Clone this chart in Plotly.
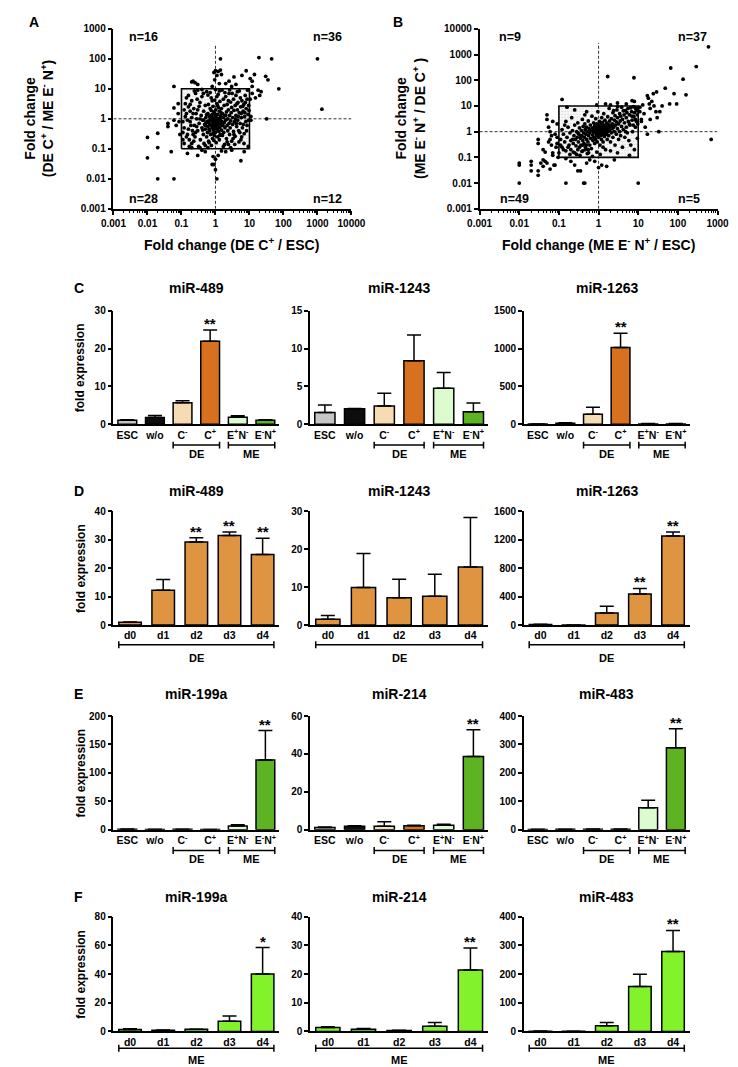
import plotly.graph_objects as go

W, H = 738, 1067
FONT = "Liberation Sans"

# ---------------- Panel A scatter data: (FC DE C+ / ESC, FC DE C+ / ME E-N+)
A_points = [
    (0.12,0.5),(0.13,1.2),(0.15,0.3),(0.16,2.5),(0.18,0.8),(0.2,0.15),(0.2,4.0),(0.22,1.5),(0.24,0.6),(0.25,0.25),
    (0.26,7.0),(0.28,1.0),(0.3,0.4),(0.3,2.0),(0.32,0.12),(0.33,0.7),(0.35,3.5),(0.36,0.2),(0.38,1.3),(0.4,0.5),
    (0.4,5.5),(0.42,0.9),(0.44,0.3),(0.45,1.8),(0.46,0.15),(0.48,0.65),(0.5,2.8),(0.5,0.45),(0.52,1.1),(0.55,0.25),
    (0.55,8.0),(0.57,0.8),(0.58,0.35),(0.6,1.5),(0.6,0.55),(0.62,3.0),(0.63,0.18),(0.65,0.7),(0.66,1.2),(0.68,0.4),
    (0.7,0.95),(0.7,2.2),(0.72,0.3),(0.74,0.6),(0.75,5.0),(0.76,0.13),(0.78,0.85),(0.8,1.4),(0.8,0.5),(0.82,0.22),
    (0.84,0.75),(0.85,2.6),(0.86,1.0),(0.88,0.42),(0.9,0.6),(0.9,1.7),(0.92,0.28),(0.94,0.9),(0.95,4.2),(0.96,0.52),
    (0.98,1.2),(1.0,0.7),(1.0,0.35),(1.02,2.0),(1.05,0.16),(1.05,0.8),(1.08,1.05),(1.1,0.45),(1.1,3.2),(1.12,0.62),
    (1.15,0.25),(1.15,1.4),(1.18,0.85),(1.2,6.5),(1.2,0.55),(1.22,2.4),(1.25,0.38),(1.25,1.0),(1.28,0.7),(1.3,0.2),
    (1.3,1.8),(1.35,0.5),(1.35,3.8),(1.38,0.95),(1.4,0.3),(1.42,1.25),(1.45,0.65),(1.5,2.2),(1.5,0.42),(1.55,0.8),
    (1.55,9.0),(1.6,1.5),(1.6,0.28),(1.65,0.6),(1.7,1.1),(1.7,4.5),(1.75,0.35),(1.8,0.75),(1.8,2.8),(1.85,0.14),
    (1.9,1.3),(1.9,0.5),(2.0,0.9),(2.0,5.5),(2.1,0.22),(2.1,1.7),(2.2,0.6),(2.2,3.0),(2.3,1.0),(2.3,0.4),
    (2.4,2.0),(2.5,0.7),(2.5,7.0),(2.6,0.3),(2.6,1.3),(2.7,0.5),(2.8,3.6),(2.8,0.85),(2.9,1.6),(3.0,0.18),
    (3.0,2.4),(3.2,0.65),(3.2,1.1),(3.4,4.5),(3.4,0.38),(3.5,1.9),(3.6,0.8),(3.8,2.8),(3.8,0.26),(4.0,1.3),
    (4.0,6.0),(4.2,0.55),(4.4,2.0),(4.5,0.9),(4.6,3.5),(4.8,0.4),(5.0,1.6),(5.0,8.5),(5.3,0.7),(5.5,2.5),
    (5.6,0.2),(5.8,1.1),(6.0,4.0),(6.2,0.5),(6.5,1.8),(6.8,3.0),(7.0,0.32),(7.2,1.2),(7.5,6.0),(7.8,0.8),
    (8.0,2.2),(8.5,0.6),(8.5,4.5),(9.0,1.4),(9.2,0.12),(9.5,2.8),
    (0.45,0.9),(0.55,1.4),(0.65,0.45),(0.75,1.9),(0.85,0.33),(0.95,1.5),(1.05,0.58),(1.15,2.8),(1.25,0.75),(1.35,0.28),
    (1.45,1.6),(0.35,1.0),(0.28,0.55),(0.22,0.3),(0.18,1.8),(0.15,0.9),(0.11,0.2),(0.14,5.0),(0.17,0.12),(0.3,9.0),
    (0.7,7.5),(1.0,9.5),(0.6,0.11),(2.4,0.14),(0.9,0.19),(1.6,0.6),(2.0,1.3),(0.5,0.6),(0.8,1.1),(1.1,0.9),
    (0.62,0.85),(0.72,1.25),(0.82,0.62),(0.92,0.78),(1.02,1.15),(1.12,0.48),(1.22,0.68),(1.32,1.05),(0.52,0.72),(0.42,0.42),
    (0.11,0.35),(0.11,0.8),(0.12,2.0),(0.12,0.15),(0.13,3.2),(0.14,0.25),(0.14,1.5),(0.16,0.45),(0.16,6.0),(0.17,0.2),
    (0.18,3.0),(0.19,0.6),(0.2,1.1),(0.21,0.4),(0.23,2.2),(0.23,0.18),(0.24,8.5),(0.26,0.35),(0.27,1.5),(0.29,4.5),
    (3.5,0.3),(3.7,0.14),(3.9,1.0),(4.1,0.7),(4.3,3.2),(4.7,1.2),(5.2,0.35),(5.4,5.0),(5.7,1.5),(5.9,0.25),
    (6.3,2.6),(6.6,0.65),(6.9,0.15),(7.3,1.6),(7.6,3.5),(8.2,0.4),(8.8,9.0),(9.3,0.9),(9.7,1.9),(4.4,8.0),
    (0.35,0.11),(0.5,0.13),(0.65,0.16),(1.7,0.12),(2.2,0.17),(2.8,0.11),(0.4,9.5),(0.6,6.2),(1.3,8.5),(1.9,7.5),
    (2.6,9.2),(3.1,7.0),(0.2,0.11),(0.33,2.6),(0.44,7.0),(0.8,4.0),(1.1,5.5),(2.4,4.0),(3.3,0.22),(4.9,0.17),
    (0.2,17),(0.22,18),(0.25,16),(0.3,14),(0.9,35),(1.0,40),(1.2,38),(1.4,42),(1.5,30),(0.95,20),
    (1.1,28),(1.3,15),(0.8,12),(2.0,15),(2.5,18),(3.0,12),(4.0,14),(3.5,25),(1.4,100),(6.0,28),
    (8.0,40),(10.5,22),(12,12),(12,7),(15,5),(18,9),(20,6),(22,8),(30,26),(35,20),
    (45,100),(19,110),(73,10),(1000,100),(1350,2.1),(32,1.0),(11,1.2),(11,0.9),(10.5,4.5),(12,18),
    (14,30),(0.01,0.24),(0.01,0.05),(0.02,0.33),(0.02,0.11),(0.02,0.01),(0.06,0.01),(0.05,0.08),(0.06,12),(0.06,2.3),
    (0.04,0.7),(0.04,0.55),(0.06,0.9),(0.08,3.2),(0.08,1.5),(0.07,0.6),(0.09,0.3),(0.085,0.8),
    (0.8,0.03),(0.9,0.03),(1.0,0.02),(1.0,0.045),(1.1,0.01),(1.2,0.06),(0.85,0.055),(5.6,0.04),(7.0,0.08),(0.3,0.06),
    (0.15,0.07),(0.5,0.08),(2.0,0.08),(0.4,0.09),(3.0,0.09),(1.5,0.085),
]

# ---------------- Panel B scatter data: (FC ME E-N+ / ESC, FC ME E-N+ / DE C+)
B_points = [
    (0.01,0.01),(0.01,0.06),(0.01,0.05),(0.02,0.07),(0.02,0.05),(0.02,0.03),(0.03,0.5),(0.03,0.35),(0.03,0.03),(0.03,0.02),
    (0.035,0.06),(0.04,0.08),(0.04,0.045),(0.04,0.2),(0.045,0.07),(0.05,0.06),(0.05,4.5),(0.05,3.0),(0.055,1.5),(0.06,1.0),
    (0.06,0.5),(0.06,0.035),(0.065,0.3),(0.07,0.12),(0.07,0.15),(0.075,0.05),(0.08,0.05),(0.08,0.8),(0.085,0.25),(0.09,2.0),
    (0.09,0.6),(0.095,0.1),(0.07,2.5),(0.065,0.7),(0.055,0.4),(0.045,0.16),(0.09,0.35),
    (0.15,0.01),(0.42,0.01),(0.45,0.01),(1.0,0.04),(1.2,0.05),(1.6,0.045),(0.2,0.07),(0.25,0.05),(0.3,0.03),
    (0.35,0.03),(0.5,0.06),(0.6,0.08),(0.15,0.09),(2.5,0.08),(0.8,0.07),(10,0.01),
    (0.12,18),(1.7,140),(7.8,125),(8,15),(1.5,12),(2,11),(3,13),(5,12),(0.9,11),(7,16),
    (590,2000),(690,0.5),(290,340),(66,300),(135,110),(160,27),(80,30),(48,49),(62,12),(93,12),
    (29,35),(33,1.0),(20,8),(18,20),(17,25),(22,15),(25,10),(28,6),(30,3.5),(20,3),
    (14,5),(12,3),(15,1.5),(11,9),(11,6),(13,11),(24,30),(40,10),(12,2.5),(17,0.8),(19,12),(35,6),
    (0.1,0.15),(0.11,0.5),(0.12,1.2),(0.12,0.25),(0.13,0.8),(0.14,0.4),(0.15,2.5),(0.15,0.18),(0.16,0.6),(0.17,1.5),
    (0.18,0.3),(0.19,0.9),(0.2,0.2),(0.2,0.45),(0.21,3.5),(0.22,1.1),(0.23,0.35),(0.24,0.7),(0.25,0.15),(0.25,1.8),
    (0.26,0.5),(0.27,0.28),(0.28,1.0),(0.29,0.6),(0.3,0.2),(0.3,2.2),(0.31,0.4),(0.32,0.8),(0.33,1.4),(0.34,0.12),
    (0.35,0.55),(0.36,0.3),(0.37,1.1),(0.38,0.7),(0.39,3.0),(0.4,0.45),(0.4,0.18),(0.41,1.6),(0.42,0.9),(0.43,0.35),
    (0.44,0.6),(0.45,2.0),(0.46,1.2),(0.47,0.25),(0.48,0.8),(0.5,0.5),(0.5,1.5),(0.52,0.14),(0.53,1.0),(0.54,0.4),
    (0.55,2.6),(0.56,0.7),(0.58,1.3),(0.6,0.3),(0.6,0.9),(0.62,1.8),(0.63,0.55),(0.65,1.1),(0.66,0.22),(0.68,4.0),
    (0.7,0.75),(0.7,1.4),(0.72,0.45),(0.74,1.0),(0.75,2.2),(0.76,0.6),(0.78,1.2),(0.8,0.35),(0.8,1.7),(0.82,0.9),
    (0.84,0.5),(0.85,3.2),(0.86,1.3),(0.88,0.7),(0.9,1.0),(0.9,2.0),(0.92,0.4),(0.94,1.5),(0.95,0.8),(0.96,6.0),
    (0.98,1.1),(1.0,0.6),(1.0,1.8),(1.02,1.3),(1.05,0.9),(1.05,2.5),(1.08,0.3),(1.1,1.5),(1.1,1.0),(1.12,0.7),
    (1.15,2.0),(1.15,1.2),(1.18,0.5),(1.2,3.5),(1.2,0.95),(1.22,1.6),(1.25,0.75),(1.25,2.3),(1.28,1.1),(1.3,0.4),
    (1.3,1.4),(1.35,0.9),(1.35,5.0),(1.38,1.8),(1.4,0.65),(1.42,1.2),(1.45,2.8),(1.5,1.0),(1.5,0.2),(1.55,1.6),
    (1.55,0.8),(1.6,2.2),(1.6,1.3),(1.65,0.5),(1.7,3.8),(1.7,1.0),(1.75,1.9),(1.8,0.7),(1.8,1.4),(1.85,8.0),
    (1.9,2.6),(1.9,1.1),(2.0,0.4),(2.0,1.7),(2.1,3.2),(2.1,0.9),(2.2,2.0),(2.2,1.3),(2.3,5.5),(2.3,0.6),
    (2.4,1.5),(2.5,2.8),(2.5,1.0),(2.6,0.3),(2.6,4.2),(2.7,1.8),(2.8,0.8),(2.8,2.4),(2.9,7.0),(3.0,1.3),
    (3.0,3.5),(3.2,0.5),(3.2,2.0),(3.4,1.0),(3.4,5.0),(3.5,2.6),(3.6,0.7),(3.8,1.6),(3.8,9.0),(4.0,3.0),
    (4.0,0.25),(4.2,1.2),(4.4,4.5),(4.5,2.2),(4.6,0.6),(4.8,6.5),(5.0,1.5),(5.0,3.5),(5.3,0.9),(5.5,8.0),
    (5.6,2.5),(5.8,0.45),(6.0,4.5),(6.2,1.8),(6.5,0.3),(6.8,6.0),(7.0,2.8),(7.2,1.0),(7.5,9.5),(7.8,3.8),
    (8.0,0.2),(8.0,5.5),(8.5,1.5),(8.8,7.5),(9.0,2.5),(9.5,0.55),(9.5,4.5),(6.0,0.12),(3.0,0.15),(0.7,0.11),
    (1.1,0.13),(0.9,0.16),(0.55,0.2),(1.3,0.25),(2.0,0.18),(0.25,7.0),(0.5,6.0),(0.16,9.0),(0.45,4.5),(0.3,0.9),
    (1.12,1.35),(1.32,1.15),(1.52,1.45),(1.72,1.25),(0.92,1.25),(1.62,0.95),(1.42,0.85),(2.3,1.9),(1.95,1.55),(0.82,1.45),
    (5.2,5.5),(6.5,8.5),(7.0,4.0),(8.2,9.0),(9.2,6.5),(9.8,8.0),(4.2,6.5),(3.6,4.0),(6.0,2.0),(7.5,1.8),
    (8.5,3.0),(9.7,2.0),(4.8,1.0),(3.0,9.5),(2.4,6.5),(0.11,0.3),(0.13,0.2),(0.14,1.8),(0.17,0.25),(0.19,0.13),
    (0.22,0.5),(0.23,0.16),(0.28,0.13),(0.33,0.25),(0.36,0.65),(0.38,0.17),(0.4,0.3),(0.46,0.2),(0.49,0.3),(0.56,0.15),
]

A_counts = ["n=16", "n=36", "n=28", "n=12"]
B_counts = ["n=9", "n=37", "n=49", "n=5"]
A_ticks_x = ["0.001", "0.01", "0.1", "1", "10", "100", "1000", "10000"]
A_ticks_y = ["0.001", "0.01", "0.1", "1", "10", "100", "1000"]
B_ticks_x = ["0.001", "0.01", "0.1", "1", "10", "100", "1000"]
B_ticks_y = ["0.001", "0.01", "0.1", "1", "10", "100", "1000", "10000"]
BOX_LO, BOX_HI, THRESH = 0.1, 10, 1
A_VLINE_TOP, B_VLINE_TOP = 300, 2800

# ---------------- Bar chart data
cell_cats = ["ESC", "w/o", "C<sup>-</sup>", "C<sup>+</sup>", "E<sup>+</sup>N<sup>-</sup>", "E<sup>-</sup>N<sup>+</sup>"]
day_cats = ["d0", "d1", "d2", "d3", "d4"]
cell_colors = ["#c6c6c6", "#0d0d0d", "#f6dbb3", "#d7711f", "#dcfccf", "#5db321"]
DE_color = "#de9441"
ME_color = "#82f22b"

C_489_mean = [1.1, 1.8, 5.7, 21.9, 1.9, 1.1]
C_489_sem = [0.1, 0.5, 0.5, 3.0, 0.35, 0.1]
C_1243_mean = [1.56, 2.04, 2.43, 8.4, 4.77, 1.65]
C_1243_sem = [1.0, 0.06, 1.67, 3.4, 2.08, 1.15]
C_1263_mean = [3, 14, 134, 1014, 6, 6]
C_1263_sem = [1, 6, 91, 186, 4, 4]

D_489_mean = [1.0, 12.2, 29.2, 31.5, 24.8]
D_489_sem = [0.1, 3.8, 1.5, 1.2, 5.7]
D_1243_mean = [1.5, 9.9, 7.2, 7.6, 15.3]
D_1243_sem = [1.0, 9.0, 4.9, 5.8, 13.1]
D_1263_mean = [8, 1, 171, 438, 1254]
D_1263_sem = [2, 0, 92, 78, 55]

E_199a_mean = [1.0, 0.6, 0.8, 0.5, 6.4, 122.5]
E_199a_sem = [0.3, 0.1, 0.2, 0.1, 2.3, 52]
E_214_mean = [1.2, 1.8, 1.9, 2.1, 2.4, 38.6]
E_214_sem = [0.3, 0.3, 2.3, 0.3, 0.5, 14.1]
E_483_mean = [1, 1.5, 2, 2, 77.5, 288]
E_483_sem = [0.3, 0.5, 0.5, 0.5, 26.5, 67]

F_199a_mean = [1.4, 0.8, 1.5, 7.1, 40.1]
F_199a_sem = [0.4, 0.2, 0.1, 3.7, 18.4]
F_214_mean = [1.4, 0.8, 0.3, 1.8, 21.4]
F_214_sem = [0.2, 0.2, 0.1, 1.3, 7.7]
F_483_mean = [1, 0.5, 19.5, 157, 278.5]
F_483_sem = [0.3, 0.2, 11.5, 42, 73.5]

# ---------------- layout helpers
layout = dict(width=W, height=H, margin=dict(l=0, r=0, t=0, b=0),
              paper_bgcolor="white", plot_bgcolor="white", showlegend=False,
              font=dict(family=FONT, color="black", size=10, weight="bold"))
annotations = []
shapes = []
fig = go.Figure()
counter = [0]


def bf(size):
    return dict(family=FONT, size=size, color="black", weight="bold")


def new_axes(x0, x1, y0, y1, xcfg, ycfg):
    counter[0] += 1
    i = counter[0]
    sfx = "" if i == 1 else str(i)
    xr, yr = "x" + sfx, "y" + sfx
    layout["xaxis" + sfx] = dict(domain=[x0 / W, x1 / W], anchor=yr, **xcfg)
    layout["yaxis" + sfx] = dict(domain=[1 - y1 / H, 1 - y0 / H], anchor=xr, **ycfg)
    return xr, yr


def ann(text, x, y, size, angle=0, xanchor="center", yanchor="middle"):
    annotations.append(dict(text=text, x=x / W, y=1 - y / H, xref="paper", yref="paper",
                            showarrow=False, font=bf(size), textangle=angle,
                            xanchor=xanchor, yanchor=yanchor))


def scatter_panel(x0, x1, y0, y1, pts, xt, yt, xlo, xhi, ylo, yhi, vtop, counts, cpos,
                  xtitle, ytitle, xtitle_pos, ytitle_pos):
    xvals = [float(t) for t in xt]
    yvals = [float(t) for t in yt]
    common = dict(type="log", showline=True, linecolor="black", linewidth=1.5, ticks="outside",
                  ticklen=4, tickwidth=1.5, tickcolor="black", showgrid=False, zeroline=False,
                  tickfont=bf(10), fixedrange=True)
    xr, yr = new_axes(x0, x1, y0, y1,
                      dict(range=[xlo, xhi], tickmode="array", tickvals=xvals, ticktext=xt,
                           minor=dict(ticks="outside", ticklen=2.5, tickwidth=1, tickcolor="black",
                                      dtick="D1", showgrid=False), **common),
                      dict(range=[ylo, yhi], tickmode="array", tickvals=yvals, ticktext=yt, **common))
    bx = [BOX_LO, BOX_HI, BOX_HI, BOX_LO, BOX_LO]
    by = [BOX_LO, BOX_LO, BOX_HI, BOX_HI, BOX_LO]
    fig.add_trace(go.Scatter(x=bx, y=by, mode="lines", fill="toself", fillcolor="#f5f5f5",
                             fillpattern=dict(shape=".", fgcolor="#a5a5a5", bgcolor="#f7f7f7",
                                              size=3, solidity=0.15),
                             line=dict(width=0), xaxis=xr, yaxis=yr, hoverinfo="skip"))
    dash = dict(color="#333333", width=1, dash="3px,2px")
    fig.add_trace(go.Scatter(x=[THRESH, THRESH], y=[yvals[0], vtop], mode="lines", line=dash,
                             xaxis=xr, yaxis=yr, hoverinfo="skip"))
    fig.add_trace(go.Scatter(x=[xvals[0], xvals[-1]], y=[THRESH, THRESH], mode="lines", line=dash,
                             xaxis=xr, yaxis=yr, hoverinfo="skip"))
    fig.add_trace(go.Scatter(x=bx, y=by, mode="lines", line=dict(color="black", width=1.6),
                             xaxis=xr, yaxis=yr, hoverinfo="skip"))
    fig.add_trace(go.Scatter(x=[p[0] for p in pts], y=[p[1] for p in pts], mode="markers",
                             marker=dict(color="black", size=3.8, line=dict(width=0)),
                             xaxis=xr, yaxis=yr))
    for txt, (cx, cy) in zip(counts, cpos):
        ann(txt, cx, cy, 12.5)
    ann(xtitle, xtitle_pos[0], xtitle_pos[1], 14)
    ann(ytitle, ytitle_pos[0], ytitle_pos[1], 14, angle=-90)


COLS = [(96, 268), (300, 485), (522, 694)]
# plot top, plot bottom, title y, bracket y, bracket label y
ROWS = {
    "C": (300, 415, 277, 436, 445),
    "D": (503, 618, 482, 638, 651),
    "E": (710, 825, 688, 846, 855),
    "F": (913, 1029, 893, 1046, 1058),
}


def bar_panel(row, col, cats, means, sems, colors, ymax, dtick, stars, title, groups):
    x0, x1 = COLS[col]
    y0, y1, ty, by, bly = ROWS[row]
    n = len(cats)
    xr, yr = new_axes(
        x0, x1, y0, y1,
        dict(range=[-0.5, n - 0.5], tickmode="array", tickvals=list(range(n)), ticktext=cats,
             ticks="", showline=True, linecolor="black", linewidth=1.5, showgrid=False,
             zeroline=False, tickfont=bf(10.5), fixedrange=True),
        dict(range=[0, ymax], dtick=dtick, tick0=0, ticks="outside", ticklen=4, tickwidth=1.5,
             tickcolor="black", showline=True, linecolor="black", linewidth=1.5, showgrid=False,
             zeroline=False, tickfont=bf(10), fixedrange=True))
    fig.add_trace(go.Bar(x=list(range(n)), y=means, width=0.68,
                         marker=dict(color=colors, line=dict(color="black", width=1.5)),
                         error_y=dict(type="data", array=sems, arrayminus=[0] * n, symmetric=False,
                                      color="black", thickness=1.5, width=7),
                         xaxis=xr, yaxis=yr))
    for i, s in stars:
        annotations.append(dict(text=s, x=i, y=means[i] + sems[i], xref=xr, yref=yr,
                                showarrow=False, font=bf(15), xanchor="center", yanchor="bottom",
                                yshift=-4))
    ann(title, (x0 + x1) / 2, ty, 14)
    for a, b, lab in groups:
        shapes.append(dict(type="line", xref=xr, yref="paper", x0=a - 0.34, x1=b + 0.34,
                           y0=1 - by / H, y1=1 - by / H, line=dict(color="black", width=1.5)))
        for xe in (a - 0.34, b + 0.34):
            shapes.append(dict(type="line", xref=xr, yref="paper", x0=xe, x1=xe,
                               y0=1 - (by - 3.5) / H, y1=1 - (by + 3.5) / H,
                               line=dict(color="black", width=1.5)))
        annotations.append(dict(text=lab, x=(a + b) / 2, y=1 - bly / H, xref=xr, yref="paper",
                                showarrow=False, font=bf(11), xanchor="center", yanchor="middle"))
    if col == 0:
        ann("fold expression", 62, (y0 + y1) / 2, 12, angle=-90)


# ---------------- Panels A & B
scatter_panel(96, 343, 15, 197, A_points, A_ticks_x, A_ticks_y, -3, 4, -3, 3, A_VLINE_TOP,
              A_counts, [(127, 23), (318, 23), (127, 187), (318, 187)],
              "Fold change (DE C<sup>+</sup> / ESC)",
              "Fold change<br>(DE C<sup>+</sup> / ME E<sup>-</sup> N<sup>+</sup>)",
              (219, 233), (18, 106))
scatter_panel(476, 723, 15, 197, B_points, B_ticks_x, B_ticks_y, -3, 3, -3, 4, B_VLINE_TOP,
              B_counts, [(508, 23), (697, 23), (512, 187), (693, 187)],
              "Fold change (ME E<sup>-</sup> N<sup>+</sup> / ESC)",
              "Fold change<br>(ME E<sup>-</sup> N<sup>+</sup> / DE C<sup>+</sup> )",
              (599, 233), (404, 106))

cell_groups = [(2, 3, "DE"), (4, 5, "ME")]
bar_panel("C", 0, cell_cats, C_489_mean, C_489_sem, cell_colors, 30, 10, [(3, "**")], "miR-489", cell_groups)
bar_panel("C", 1, cell_cats, C_1243_mean, C_1243_sem, cell_colors, 15, 5, [], "miR-1243", cell_groups)
bar_panel("C", 2, cell_cats, C_1263_mean, C_1263_sem, cell_colors, 1500, 500, [(3, "**")], "miR-1263", cell_groups)

DEg = [(0, 4, "DE")]
bar_panel("D", 0, day_cats, D_489_mean, D_489_sem, [DE_color] * 5, 40, 10,
          [(2, "**"), (3, "**"), (4, "**")], "miR-489", DEg)
bar_panel("D", 1, day_cats, D_1243_mean, D_1243_sem, [DE_color] * 5, 30, 10, [], "miR-1243", DEg)
bar_panel("D", 2, day_cats, D_1263_mean, D_1263_sem, [DE_color] * 5, 1600, 400,
          [(3, "**"), (4, "**")], "miR-1263", DEg)

bar_panel("E", 0, cell_cats, E_199a_mean, E_199a_sem, cell_colors, 200, 50, [(5, "**")], "miR-199a", cell_groups)
bar_panel("E", 1, cell_cats, E_214_mean, E_214_sem, cell_colors, 60, 20, [(5, "**")], "miR-214", cell_groups)
bar_panel("E", 2, cell_cats, E_483_mean, E_483_sem, cell_colors, 400, 100, [(5, "**")], "miR-483", cell_groups)

MEg = [(0, 4, "ME")]
bar_panel("F", 0, day_cats, F_199a_mean, F_199a_sem, [ME_color] * 5, 80, 20, [(4, "*")], "miR-199a", MEg)
bar_panel("F", 1, day_cats, F_214_mean, F_214_sem, [ME_color] * 5, 40, 10, [(4, "**")], "miR-214", MEg)
bar_panel("F", 2, day_cats, F_483_mean, F_483_sem, [ME_color] * 5, 400, 100, [(4, "**")], "miR-483", MEg)

# panel letters
for letter, (lx, ly) in {"A": (13, 8), "B": (391, 8), "C": (60, 277), "D": (60, 482),
                         "E": (60, 688), "F": (60, 893)}.items():
    ann(letter, lx, ly, 14)

layout["annotations"] = annotations
layout["shapes"] = shapes
fig.update_layout(**layout)
fig.write_html("out.html")
